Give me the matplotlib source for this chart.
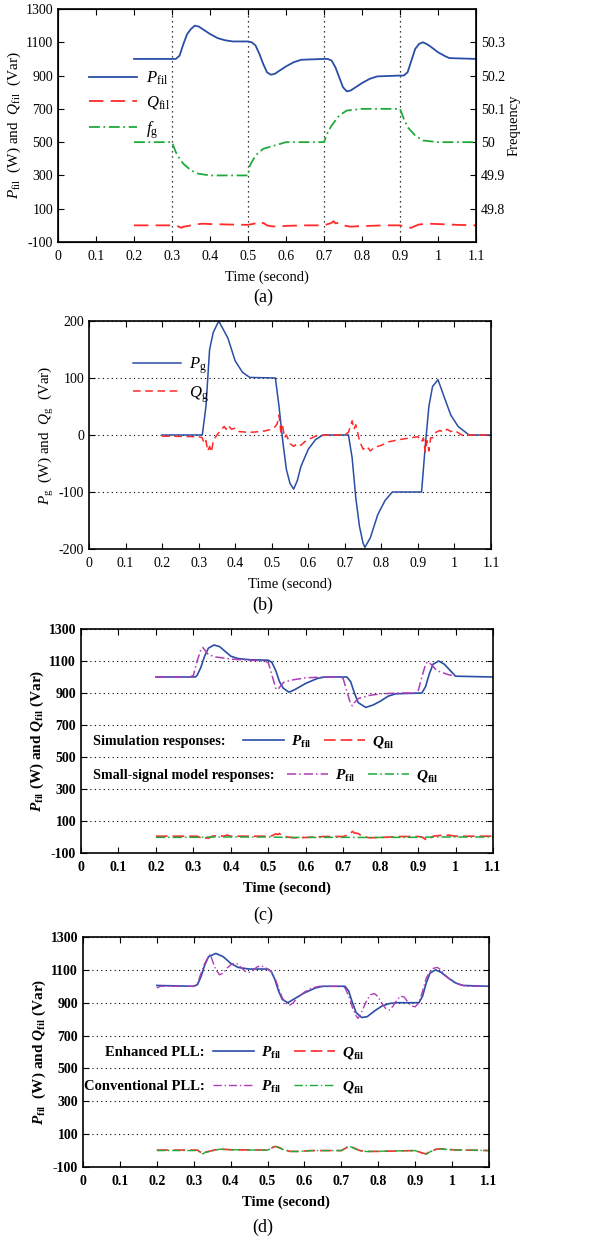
import matplotlib
matplotlib.use("Agg")
import matplotlib.pyplot as plt

plt.rcParams["font.family"] = "Liberation Serif"
plt.rcParams["mathtext.fontset"] = "custom"
plt.rcParams["mathtext.rm"] = "Liberation Serif"
plt.rcParams["mathtext.it"] = "Liberation Serif:italic"
plt.rcParams["mathtext.bf"] = "Liberation Serif:bold"
plt.rcParams["mathtext.bfit"] = "Liberation Serif:bold:italic"
plt.rcParams["axes.unicode_minus"] = False

# event times (dotted markers in panel a)
step_times = [0.3, 0.5, 0.7, 0.9]

# panel (a): filter power and grid frequency
t_pa = [0.2, 0.31, 0.32, 0.33, 0.34, 0.35, 0.36, 0.37, 0.38, 0.40, 0.42, 0.44, 0.46, 0.50,
        0.51, 0.52, 0.53, 0.54, 0.55, 0.56, 0.57, 0.58, 0.60, 0.62, 0.64, 0.70,
        0.71, 0.72, 0.73, 0.74, 0.75, 0.76, 0.77, 0.78, 0.80, 0.82, 0.84, 0.90,
        0.91, 0.92, 0.93, 0.94, 0.95, 0.96, 0.97, 0.98, 1.00, 1.02, 1.03, 1.1]
p_fil_a = [1000, 1000, 1020, 1090, 1150, 1180, 1200, 1195, 1180, 1150, 1125, 1112, 1105, 1105,
           1100, 1080, 1030, 970, 920, 905, 910, 925, 955, 980, 995, 1000,
           1000, 990, 950, 890, 830, 805, 810, 825, 855, 880, 895, 900,
           900, 920, 990, 1060, 1090, 1100, 1090, 1075, 1040, 1015, 1005, 1000]
t_qa = [0.2, 0.31, 0.32, 0.325, 0.33, 0.34, 0.36, 0.38, 0.40, 0.45, 0.50, 0.52, 0.53, 0.535,
        0.54, 0.55, 0.56, 0.58, 0.60, 0.65, 0.70, 0.72, 0.725, 0.73, 0.74, 0.75, 0.77,
        0.79, 0.82, 0.86, 0.90, 0.92, 0.93, 0.935, 0.95, 0.97, 1.0, 1.05, 1.1]
q_fil_a = [0, 0, -10, -15, -8, -5, 5, 10, 8, 5, 3, 12, 20, 10,
           15, 0, -5, -8, -3, 0, 0, 15, 25, 12, 15, 0, -8,
           -5, -3, 0, 0, -10, -15, -8, 5, 10, 8, 3, 0]
t_fa = [0.2, 0.30, 0.31, 0.32, 0.33, 0.35, 0.37, 0.40, 0.50, 0.505, 0.52, 0.54, 0.57, 0.60,
        0.70, 0.71, 0.72, 0.74, 0.76, 0.80, 0.90, 0.91, 0.92, 0.94, 0.96, 1.0, 1.1]
f_g_a = [50.0, 50.0, 49.97, 49.95, 49.935, 49.915, 49.905, 49.9, 49.9, 49.93, 49.96, 49.98, 49.99, 50.0,
         50.0, 50.03, 50.05, 50.08, 50.095, 50.1, 50.1, 50.07, 50.045, 50.02, 50.005, 50.0, 50.0]

# panel (b): grid power
t_pb = [0.2, 0.31, 0.32, 0.33, 0.34, 0.355, 0.38, 0.40, 0.42, 0.44, 0.51,
        0.52, 0.53, 0.54, 0.55, 0.56, 0.57, 0.58, 0.60, 0.62, 0.64, 0.71,
        0.72, 0.73, 0.74, 0.75, 0.755, 0.77, 0.79, 0.81, 0.83, 0.91,
        0.92, 0.93, 0.94, 0.955, 0.97, 0.99, 1.01, 1.04, 1.1]
p_g_b = [0, 0, 50, 150, 180, 200, 170, 130, 110, 101, 100,
         50, -10, -60, -85, -95, -80, -55, -25, -8, 0, 0,
         -40, -110, -160, -190, -197, -180, -140, -115, -100, -100,
         -20, 50, 85, 97, 70, 35, 15, 0, 0]
t_qb = [0.2, 0.30, 0.31, 0.315, 0.32, 0.325, 0.33, 0.335, 0.34, 0.35, 0.36, 0.37, 0.375, 0.38,
        0.39, 0.40, 0.41, 0.43, 0.45, 0.48, 0.50, 0.51, 0.515, 0.52, 0.525, 0.53, 0.535, 0.54,
        0.55, 0.56, 0.57, 0.58, 0.59, 0.60, 0.61, 0.62, 0.65, 0.70, 0.71, 0.72, 0.725, 0.73,
        0.735, 0.74, 0.75, 0.76, 0.77, 0.78, 0.80, 0.82, 0.85, 0.88, 0.90, 0.91, 0.915, 0.92,
        0.925, 0.93, 0.935, 0.94, 0.95, 0.96, 0.97, 0.98, 0.99, 1.0, 1.02, 1.1]
q_g_b = [-2, -3, -5, -15, -10, -28, -20, -30, -10, 0, 8, 15, 10, 17,
         10, 12, 6, 5, 5, 7, 10, 15, 20, 35, 5, 15, -5, 0,
         -15, -20, -15, -18, -12, -8, -5, -2, 0, 0, 5, 25, 10, 18,
         5, -10, -25, -20, -28, -22, -18, -12, -8, -5, -3, -12, -5, -30,
         -10, -28, -5, -5, 5, 8, 5, 10, 6, 8, 0, 0]

# panel (c): simulation vs small-signal model
t_pc = [0.2, 0.305, 0.31, 0.32, 0.33, 0.34, 0.355, 0.37, 0.38, 0.40, 0.42, 0.45, 0.50,
        0.51, 0.52, 0.53, 0.54, 0.555, 0.57, 0.60, 0.63, 0.65, 0.71,
        0.72, 0.73, 0.74, 0.76, 0.78, 0.80, 0.82, 0.84, 0.91,
        0.92, 0.93, 0.94, 0.955, 0.97, 0.99, 1.0, 1.1]
p_sim_c = [1000, 1000, 1010, 1060, 1130, 1180, 1200, 1190, 1170, 1130, 1115, 1108, 1105,
           1090, 1040, 970, 930, 905, 920, 960, 990, 1000, 1000,
           970, 900, 840, 810, 825, 850, 880, 895, 900,
           940, 1020, 1080, 1100, 1080, 1030, 1005, 1000]
t_ssc = [0.2, 0.29, 0.30, 0.31, 0.32, 0.325, 0.33, 0.34, 0.36, 0.40, 0.45, 0.49, 0.50, 0.51,
         0.52, 0.525, 0.53, 0.54, 0.56, 0.60, 0.65, 0.69, 0.70, 0.71, 0.72, 0.725, 0.73,
         0.74, 0.77, 0.80, 0.85, 0.89, 0.90, 0.91, 0.92, 0.925, 0.93, 0.95, 0.98, 1.0]
p_ss_c = [1000, 1000, 1010, 1100, 1170, 1185, 1170, 1140, 1125, 1112, 1105, 1100, 1090, 1010,
          930, 920, 935, 965, 980, 995, 1000, 1000, 990, 910, 830, 820, 840,
          865, 885, 895, 900, 900, 910, 1000, 1080, 1095, 1090, 1040, 1015, 1005]
t_qc = [0.2, 0.31, 0.32, 0.325, 0.33, 0.34, 0.35, 0.37, 0.38, 0.39, 0.40, 0.50, 0.51, 0.52,
        0.525, 0.53, 0.535, 0.55, 0.57, 0.60, 0.65, 0.70, 0.71, 0.72, 0.725, 0.73, 0.74,
        0.75, 0.77, 0.80, 0.85, 0.90, 0.91, 0.92, 0.925, 0.93, 0.94, 0.96, 0.97, 0.98, 1.0, 1.1]
q_sim_c = [5, 5, -5, -12, -5, -8, 5, 10, 5, 12, 5, 5, 8, 20,
           15, 22, 10, 0, -5, -3, 3, 3, 10, 25, 35, 25, 22,
           5, -5, -3, 3, 3, 0, -15, -8, -12, 5, 10, 5, 12, 5, 5]
t_qssc = [0.2, 0.3, 0.35, 0.5, 0.55, 0.7, 0.75, 0.9, 0.95, 1.1]
q_ss_c = [-2, -2, 0, 0, -3, -2, -3, -2, 0, 0]

# panel (d): enhanced vs conventional PLL
t_pd = [0.2, 0.3, 0.31, 0.32, 0.33, 0.34, 0.36, 0.38, 0.40, 0.42, 0.45, 0.50,
        0.51, 0.52, 0.53, 0.54, 0.555, 0.57, 0.60, 0.63, 0.65, 0.71,
        0.72, 0.73, 0.74, 0.755, 0.77, 0.79, 0.81, 0.83, 0.85, 0.91,
        0.92, 0.93, 0.94, 0.955, 0.97, 0.99, 1.01, 1.03, 1.1]
p_enh_d = [1005, 1000, 1010, 1060, 1130, 1180, 1200, 1180, 1140, 1115, 1105, 1105,
           1090, 1040, 970, 920, 900, 920, 960, 990, 1000, 1000,
           970, 900, 840, 810, 815, 850, 880, 895, 900, 900,
           940, 1020, 1080, 1100, 1085, 1050, 1020, 1005, 1000]
t_cd = [0.2, 0.21, 0.3, 0.31, 0.32, 0.33, 0.34, 0.345, 0.35, 0.36, 0.37, 0.38, 0.39, 0.40,
        0.41, 0.42, 0.43, 0.44, 0.45, 0.46, 0.47, 0.48, 0.49, 0.50, 0.51, 0.52, 0.53, 0.54,
        0.55, 0.56, 0.57, 0.58, 0.60, 0.62, 0.64, 0.70, 0.71, 0.72, 0.73, 0.74, 0.745, 0.75,
        0.76, 0.77, 0.78, 0.79, 0.80, 0.81, 0.82, 0.83, 0.84, 0.85, 0.86, 0.87, 0.88, 0.89,
        0.90, 0.91, 0.92, 0.93, 0.94, 0.95, 0.96, 0.97, 0.98, 1.0, 1.02, 1.04, 1.1]
p_conv_d = [990, 1000, 1000, 1020, 1080, 1140, 1180, 1195, 1160, 1100, 1070, 1080, 1110, 1130,
            1140, 1135, 1110, 1090, 1085, 1095, 1115, 1125, 1120, 1105, 1090, 1050, 990, 930,
            895, 885, 900, 930, 965, 990, 1000, 1000, 990, 940, 870, 820, 805, 820,
            870, 920, 950, 955, 935, 895, 865, 855, 880, 915, 940, 935, 905, 880,
            875, 900, 970, 1050, 1090, 1110, 1115, 1100, 1070, 1030, 1010, 1000, 1000]
t_qd = [0.2, 0.31, 0.32, 0.325, 0.33, 0.35, 0.37, 0.40, 0.50, 0.52, 0.53, 0.54, 0.56, 0.58,
        0.62, 0.70, 0.72, 0.73, 0.75, 0.77, 0.80, 0.90, 0.92, 0.93, 0.94, 0.96, 0.98, 1.0, 1.1]
q_enh_d = [3, 3, -12, -18, -10, 0, 10, 5, 3, 25, 20, 10, -5, -5,
           0, 0, 25, 20, 0, -5, -5, 0, -15, -20, -5, 10, 10, 5, 0]
q_conv_d = [0, 0, -15, -20, -12, -2, 8, 5, 2, 28, 18, 8, -5, -6,
            0, 0, 28, 18, -2, -6, -4, 0, -18, -22, -8, 12, 8, 5, 0]

blue = "#2a4ea6"
red = "#ff2a2a"
green = "#1faa3c"
magenta = "#b03cb8"

fig = plt.figure(figsize=(6.12, 12.41), dpi=100)


def style_axes(ax, bold=False, right=True):
    ax.set_xlim(0, 1.1)
    ax.set_xticks([0, 0.1, 0.2, 0.3, 0.4, 0.5, 0.6, 0.7, 0.8, 0.9, 1.0, 1.1])
    ax.set_xticklabels(["0", "0.1", "0.2", "0.3", "0.4", "0.5", "0.6", "0.7", "0.8", "0.9", "1", "1.1"])
    ax.tick_params(direction="in", top=True, right=right, labelsize=10, length=4, width=0.8)
    ax.tick_params(axis="x", pad=6)
    weight = "bold" if bold else "normal"
    for lab in ax.get_xticklabels() + ax.get_yticklabels():
        lab.set_fontweight(weight)
    for sp in ax.spines.values():
        sp.set_linewidth(1.2)
    ax.set_xlabel("Time (second)", fontsize=10.5, fontweight=weight, labelpad=5)


# ---- (a)
ax = fig.add_axes([58 / 612, 1 - 242 / 1241, 418 / 612, 233 / 1241])
ax.set_ylim(-100, 1300)
ax.set_yticks(range(-100, 1301, 200))
for ts in step_times:
    ax.axvline(ts, color="k", linestyle=(0, (1, 3)), linewidth=0.9)
h1, = ax.plot(t_pa, p_fil_a, color=blue, lw=1.3, label=r"$P_{\rm fil}$")
h2, = ax.plot(t_qa, q_fil_a, color=red, lw=1.3, dashes=(8, 4), label=r"$Q_{\rm fil}$")
style_axes(ax, right=False)
ax.set_ylabel(r"$P_{\rm fil}$  (W) and  $Q_{\rm fil}$  (Var)", fontsize=11, labelpad=2)
ax2 = ax.twinx()
ax2.set_ylim(49.7, 50.4)
ax2.set_yticks([49.8, 49.9, 50.0, 50.1, 50.2, 50.3])
ax2.set_yticklabels(["49.8", "49.9", "50", "50.1", "50.2", "50.3"])
ax2.tick_params(direction="in", labelsize=10, length=4)
h3, = ax2.plot(t_fa, f_g_a, color=green, lw=1.3, dashes=(6, 2, 1, 2), label=r"$f_{\rm g}$")
ax2.set_ylabel("Frequency", fontsize=10.5, labelpad=2)
ax.legend(handles=[h1, h2, h3], loc="upper left", bbox_to_anchor=(0.074, 0.74),
          frameon=False, fontsize=12, handlelength=2.9, handletextpad=0.5,
          labelspacing=0.45, borderpad=0, borderaxespad=0)
fig.text(263 / 612, 1 - 297 / 1241, "(a)", ha="center", va="center", fontsize=13)

# ---- (b)
ax = fig.add_axes([89 / 612, 1 - 549 / 1241, 402 / 612, 228 / 1241])
ax.set_ylim(-200, 200)
ax.set_yticks([-200, -100, 0, 100, 200])
ax.yaxis.grid(True, color="k", linestyle=(0, (1, 3)), linewidth=0.8)
ax.plot(t_pb, p_g_b, color=blue, lw=1.1, label=r"$P_{\rm g}$")
ax.plot(t_qb, q_g_b, color=red, lw=1.1, dashes=(5, 3), label=r"$Q_{\rm g}$")
style_axes(ax)
ax.set_ylabel(r"$P_{\rm g}$  (W) and  $Q_{\rm g}$  (Var)", fontsize=11, labelpad=2)
ax.legend(loc="upper left", bbox_to_anchor=(0.109, 0.85), frameon=False, fontsize=12,
          handlelength=2.9, handletextpad=0.5, labelspacing=0.5, borderpad=0, borderaxespad=0)
fig.text(263 / 612, 1 - 605 / 1241, "(b)", ha="center", va="center", fontsize=13)

# ---- (c)
ax = fig.add_axes([81 / 612, 1 - 853 / 1241, 412 / 612, 224 / 1241])
ax.set_ylim(-100, 1300)
ax.set_yticks(range(-100, 1301, 200))
ax.yaxis.grid(True, color="k", linestyle=(0, (1, 3)), linewidth=0.8)
a1, = ax.plot(t_pc, p_sim_c, color=blue, lw=1.2, label=r"$\mathbfit{P}_{\mathbf{fil}}$")
a2, = ax.plot(t_qc, q_sim_c, color=red, lw=1.2, dashes=(7, 3), label=r"$\mathbfit{Q}_{\mathbf{fil}}$")
a3, = ax.plot(t_ssc, p_ss_c, color=magenta, lw=1.1, dashes=(6, 2, 1, 2), label=r"$\mathbfit{P}_{\mathbf{fil}}$")
a4, = ax.plot(t_qssc, q_ss_c, color=green, lw=1.1, dashes=(6, 2, 1, 2), label=r"$\mathbfit{Q}_{\mathbf{fil}}$")
style_axes(ax, bold=True)
ax.set_ylabel(r"$\mathbfit{P}_{\mathbf{fil}}$ (W) and $\mathbfit{Q}_{\mathbf{fil}}$ (Var)",
              fontsize=11, fontweight="bold", labelpad=2)
leg_kw = dict(frameon=False, ncol=2, handlelength=2.7, handletextpad=0.45,
              columnspacing=0.8, borderpad=0, borderaxespad=0, loc="center left",
              prop={"weight": "bold", "size": 11})
lg = ax.legend(handles=[a1, a2], bbox_to_anchor=(0.393, 0.496), **leg_kw)
ax.add_artist(lg)
ax.legend(handles=[a3, a4], bbox_to_anchor=(0.5, 0.344), **leg_kw)
ax.text(0.029, 0.496, "Simulation responses:", transform=ax.transAxes, fontsize=10.2,
        fontweight="bold", va="center", ha="left")
ax.text(0.029, 0.344, "Small-signal model responses:", transform=ax.transAxes, fontsize=10.2,
        fontweight="bold", va="center", ha="left")
fig.text(263 / 612, 1 - 915 / 1241, "(c)", ha="center", va="center", fontsize=13)

# ---- (d)
ax = fig.add_axes([83 / 612, 1 - 1167 / 1241, 406 / 612, 230 / 1241])
ax.set_ylim(-100, 1300)
ax.set_yticks(range(-100, 1301, 200))
ax.yaxis.grid(True, color="k", linestyle=(0, (1, 3)), linewidth=0.8)
b1, = ax.plot(t_pd, p_enh_d, color=blue, lw=1.2, label=r"$\mathbfit{P}_{\mathbf{fil}}$")
b2, = ax.plot(t_qd, q_enh_d, color=red, lw=1.2, dashes=(7, 3), label=r"$\mathbfit{Q}_{\mathbf{fil}}$")
b3, = ax.plot(t_cd, p_conv_d, color=magenta, lw=1.0, dashes=(6, 2, 1, 2), label=r"$\mathbfit{P}_{\mathbf{fil}}$")
b4, = ax.plot(t_qd, q_conv_d, color=green, lw=1.0, dashes=(6, 2, 1, 2), label=r"$\mathbfit{Q}_{\mathbf{fil}}$")
style_axes(ax, bold=True)
ax.set_ylabel(r"$\mathbfit{P}_{\mathbf{fil}}$  (W) and $\mathbfit{Q}_{\mathbf{fil}}$ (Var)",
              fontsize=11, fontweight="bold", labelpad=2)
lg = ax.legend(handles=[b1, b2], bbox_to_anchor=(0.32, 0.496), **leg_kw)
ax.add_artist(lg)
ax.legend(handles=[b3, b4], bbox_to_anchor=(0.32, 0.348), **leg_kw)
ax.text(0.30, 0.496, "Enhanced PLL:", transform=ax.transAxes, fontsize=10.5,
        fontweight="bold", va="center", ha="right")
ax.text(0.30, 0.348, "Conventional PLL:", transform=ax.transAxes, fontsize=10.5,
        fontweight="bold", va="center", ha="right")
fig.text(263 / 612, 1 - 1227 / 1241, "(d)", ha="center", va="center", fontsize=13)

fig.savefig("out.png", dpi=100)
